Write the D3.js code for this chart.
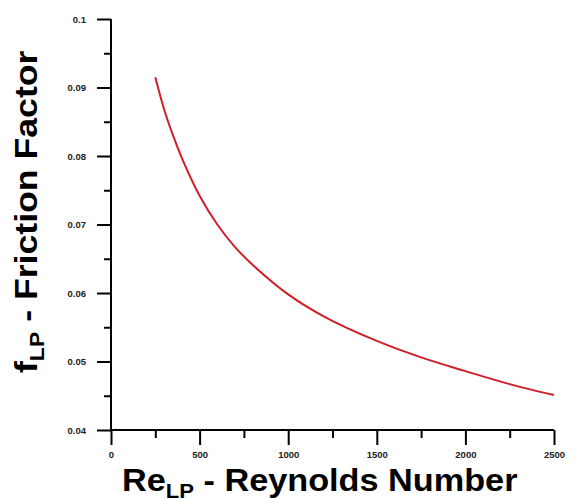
<!DOCTYPE html>
<html><head><meta charset="utf-8">
<script src="https://cdn.jsdelivr.net/npm/d3@7"></script>
<style>body{margin:0;background:#fff}svg{display:block}</style>
</head><body>
<svg id="c" width="574" height="499"></svg>
<script>
const reynolds = [250, 300, 350, 400, 500, 600, 700, 800, 1000, 1200, 1500, 1750, 2000, 2250, 2500];
const friction = [0.0915, 0.0868, 0.0830, 0.0797, 0.0742, 0.0700, 0.0667, 0.0641, 0.0598, 0.0566, 0.0530, 0.0506, 0.0486, 0.0467, 0.0451];
const xTicks = [0, 500, 1000, 1500, 2000, 2500];
const xMinor = [250, 750, 1250, 1750, 2250];
const yTicks = [0.04, 0.05, 0.06, 0.07, 0.08, 0.09, 0.1];
const yMinor = [0.045, 0.055, 0.065, 0.075, 0.085, 0.095];
const yTickLabels = ["0.04", "0.05", "0.06", "0.07", "0.08", "0.09", "0.1"];

const W = 574, H = 499;
const m = {left: 111, right: 20, top: 19, bottom: 69};
const svg = d3.select("#c");
const x = d3.scaleLinear().domain([0, 2500]).range([m.left, W - m.right]);
const y = d3.scaleLinear().domain([0.04, 0.1]).range([H - m.bottom, m.top]);

const tickFont = "bold 9.5px 'Liberation Sans', Arial, sans-serif";

// X axis
const gx = svg.append("g").attr("transform", `translate(0,${y(0.04)})`);
gx.call(d3.axisBottom(x).tickValues(xTicks).tickSize(15).tickPadding(6).tickFormat(d3.format("d")));
gx.append("g").call(d3.axisBottom(x).tickValues(xMinor).tickSize(8).tickFormat(""));
// Y axis
const gy = svg.append("g").attr("transform", `translate(${x(0)},0)`);
gy.call(d3.axisLeft(y).tickValues(yTicks).tickSize(14).tickPadding(11).tickFormat((d, i) => yTickLabels[i]));
gy.append("g").call(d3.axisLeft(y).tickValues(yMinor).tickSize(7).tickFormat(""));

svg.selectAll(".tick line").attr("stroke", "#000").attr("stroke-width", 2);
svg.selectAll(".tick text").style("font", tickFont).attr("fill", "#222");
svg.selectAll("g g .domain").remove();
gx.select(".domain").attr("stroke", "#000").attr("stroke-width", 2).attr("d", `M${x(0)},0H${x(2500)}`);
gy.select(".domain").attr("stroke", "#000").attr("stroke-width", 2).attr("d", `M0,${y(0.1)}V${y(0.04)}`);

// Curve
const data = reynolds.map((r, i) => ({r, f: friction[i]}));
svg.append("path").datum(data)
  .attr("fill", "none").attr("stroke", "#d01f27").attr("stroke-width", 2)
  .attr("d", d3.line().x(d => x(d.r)).y(d => y(d.f)).curve(d3.curveCatmullRom));

// Axis titles
const titleFont = "bold 31px 'Liberation Sans', Arial, sans-serif";
const xt = svg.append("text").attr("transform", "translate(122,491) scale(1.105,1)").style("font", titleFont).attr("fill", "#000");
xt.append("tspan").text("Re");
xt.append("tspan").attr("dy", 7).style("font-size", "20px").text("LP");
xt.append("tspan").attr("dy", -7).text(" - Reynolds Number");

const yt = svg.append("text").attr("transform", "translate(37,373) rotate(-90) scale(1.15,1)").style("font", titleFont).attr("fill", "#000");
yt.append("tspan").text("f");
yt.append("tspan").attr("dy", 7).style("font-size", "20px").text("LP");
yt.append("tspan").attr("dy", -7).text(" - Friction Factor");
</script>
</body></html>
